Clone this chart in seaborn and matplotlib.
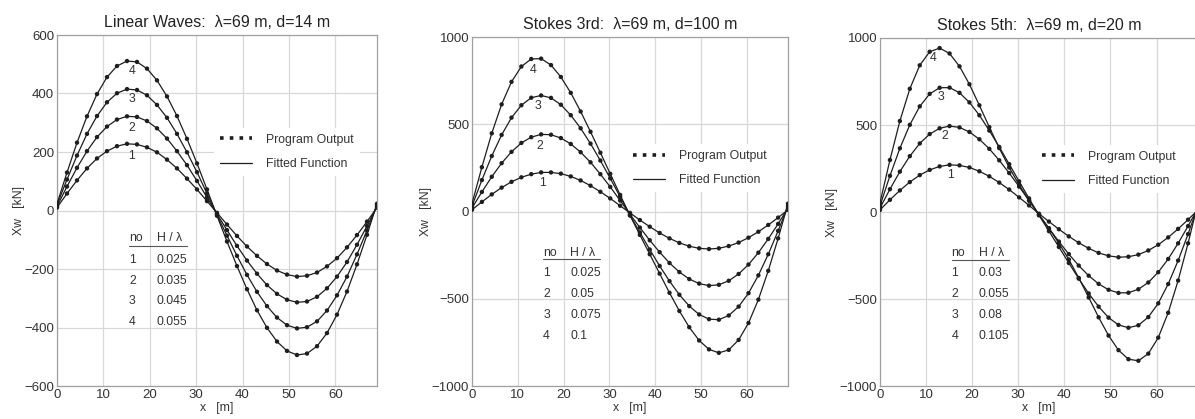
#!/usr/bin/env python3
"""
Wave force Xw along one wavelength: program output vs fitted function
"""

import numpy as np
import pandas as pd
import matplotlib
matplotlib.use('Agg')
import matplotlib.pyplot as plt
import seaborn as sns
from matplotlib.lines import Line2D
from matplotlib.ticker import MultipleLocator

# ---- data ----
wavelength = 69
x_m = np.linspace(0, wavelength, 33)   # sampling positions of the program output

titles = ['Linear Waves:  \u03bb=69 m, d=14 m',
          'Stokes 3rd:  \u03bb=69 m, d=100 m',
          'Stokes 5th:  \u03bb=69 m, d=20 m']
curve_no = ['1', '2', '3', '4']

linear_1 = [10, 58, 103, 144, 178, 203, 220, 228, 226, 216, 199, 174, 144, 109, 72, 32,
            -8, -48, -87, -123, -155, -183, -205, -219, -226, -223, -212, -191, -163, -126, -84, -38, 10]
linear_2 = [14, 82, 146, 203, 251, 287, 311, 322, 320, 306, 281, 246, 203, 155, 101, 45,
            -12, -67, -121, -171, -216, -255, -285, -305, -314, -311, -295, -266, -226, -176, -117, -53, 14]
linear_3 = [19, 106, 188, 262, 323, 370, 401, 415, 412, 394, 361, 317, 262, 199, 131, 58,
            -15, -86, -155, -220, -278, -327, -366, -392, -403, -399, -379, -342, -290, -226, -150, -68, 19]
linear_4 = [23, 130, 232, 322, 398, 456, 494, 511, 508, 485, 445, 390, 323, 245, 161, 72,
            -18, -106, -190, -269, -341, -401, -448, -480, -494, -489, -464, -419, -356, -277, -184, -83, 23]

stokes3_1 = [10, 55, 98, 137, 170, 196, 214, 224, 224, 217, 201, 178, 148, 113, 75, 33,
             -8, -49, -87, -123, -154, -180, -199, -211, -215, -211, -198, -178, -150, -116, -77, -35, 10]
stokes3_2 = [20, 112, 199, 277, 342, 393, 426, 442, 440, 421, 387, 340, 282, 214, 141, 63,
             -16, -92, -165, -233, -295, -347, -387, -413, -425, -420, -397, -358, -304, -236, -157, -71, 20]
stokes3_3 = [31, 180, 318, 439, 538, 609, 652, 665, 651, 612, 552, 477, 389, 292, 190, 84,
             -21, -120, -218, -312, -399, -477, -542, -590, -617, -620, -596, -545, -468, -366, -245, -111, 31]
stokes3_4 = [45, 254, 448, 614, 743, 831, 874, 876, 839, 771, 680, 573, 457, 337, 216, 95,
             -23, -134, -245, -356, -466, -570, -663, -739, -790, -810, -793, -736, -639, -505, -340, -154, 45]

stokes5_1 = [12, 70, 124, 172, 212, 242, 262, 271, 268, 256, 234, 205, 169, 129, 84, 38,
             -10, -55, -99, -140, -177, -209, -235, -252, -260, -257, -245, -221, -188, -146, -97, -44, 12]
stokes5_2 = [23, 131, 232, 321, 394, 448, 481, 494, 486, 460, 418, 363, 297, 224, 146, 65,
             -16, -94, -170, -242, -308, -366, -413, -447, -465, -464, -444, -405, -346, -270, -180, -81, 23]
stokes5_3 = [36, 208, 366, 501, 607, 679, 714, 715, 685, 630, 556, 468, 374, 275, 176, 78,
             -19, -110, -201, -293, -383, -468, -544, -607, -649, -665, -651, -604, -525, -414, -279, -127, 36]
stokes5_4 = [53, 299, 523, 708, 843, 921, 942, 911, 837, 734, 613, 488, 367, 256, 156, 67,
             -16, -94, -179, -273, -379, -491, -605, -710, -794, -846, -855, -814, -722, -579, -394, -180, 53]

h_over_l_linear = ['0.025', '0.035', '0.045', '0.055']
h_over_l_stokes3 = ['0.025', '0.05', '0.075', '0.1']
h_over_l_stokes5 = ['0.03', '0.055', '0.08', '0.105']

# curve number labels (x, y in data units)
label_pos_linear = [(16.1, 186), (16.1, 283), (16.1, 380), (16.1, 477)]
label_pos_stokes3 = [(15.4, 164), (14.8, 376), (14.3, 604), (13.4, 813)]
label_pos_stokes5 = [(15.3, 213), (14.1, 436), (13.2, 662), (11.6, 885)]

panels = [
    dict(series=[linear_1, linear_2, linear_3, linear_4], hl=h_over_l_linear,
         labels=label_pos_linear, ylim=(-600, 600), major=200, minor=50,
         rect=[57 / 1195, 33 / 419, 320 / 1195, 351 / 419],
         table_y=[0.421, 0.399, 0.359, 0.300, 0.242, 0.183],
         legend_y=0.667, ylab_x=-0.10),
    dict(series=[stokes3_1, stokes3_2, stokes3_3, stokes3_4], hl=h_over_l_stokes3,
         labels=label_pos_stokes3, ylim=(-1000, 1000), major=500, minor=100,
         rect=[472 / 1195, 33 / 419, 316 / 1195, 349 / 419],
         table_y=[0.382, 0.363, 0.324, 0.264, 0.203, 0.143],
         legend_y=0.624, ylab_x=-0.127),
    dict(series=[stokes5_1, stokes5_2, stokes5_3, stokes5_4], hl=h_over_l_stokes5,
         labels=label_pos_stokes5, ylim=(-1000, 1000), major=500, minor=100,
         rect=[880 / 1195, 33 / 419, 318 / 1195, 348 / 419],
         table_y=[0.382, 0.363, 0.324, 0.264, 0.203, 0.143],
         legend_y=0.624, ylab_x=-0.132),
]


def main():
    sns.set_style('white')
    plt.rcParams['font.family'] = ['Liberation Sans', 'DejaVu Sans']
    plt.rcParams['axes.unicode_minus'] = True

    fig = plt.figure(figsize=(11.95, 4.19), dpi=100)
    fs = 8.8
    ink = '#1e1e1e'
    grid_c = '#d8d8d8'

    for i, p in enumerate(panels):
        ax = fig.add_axes(p['rect'])

        # long table for seaborn
        df = pd.DataFrame({
            'x': np.tile(x_m, 4),
            'Xw': np.concatenate(p['series']),
            'no': np.repeat(curve_no, len(x_m)),
        })

        sns.lineplot(data=df, x='x', y='Xw', units='no', estimator=None,
                     color=ink, linewidth=0.9, ax=ax, legend=False, zorder=3)
        sns.scatterplot(data=df, x='x', y='Xw', color=ink, s=10, marker='o',
                        edgecolor='none', ax=ax, legend=False, zorder=4)

        ax.set_xlim(0, wavelength)
        ax.set_ylim(*p['ylim'])
        ax.xaxis.set_major_locator(MultipleLocator(10))
        ax.yaxis.set_major_locator(MultipleLocator(p['major']))
        ax.yaxis.set_minor_locator(MultipleLocator(p['minor']))
        ax.grid(True, which='major', color=grid_c, linewidth=0.9, zorder=0)
        ax.set_axisbelow(True)
        for sp in ax.spines.values():
            sp.set_color('#a0a0a0')
            sp.set_linewidth(0.9)
        ax.tick_params(axis='both', which='major', length=0, labelsize=9.5,
                       labelcolor='#333333', pad=2)
        ax.tick_params(axis='y', which='minor', length=2.5, direction='in',
                       color='#a0a0a0', width=0.6)

        ax.set_title(titles[i], fontsize=11.5, color='#222222', pad=6)
        ax.set_xlabel('x   [m]', fontsize=fs, color='#333333')
        ax.set_ylabel('Xw   [kN]', fontsize=fs, color='#333333')
        ax.xaxis.set_label_coords(0.5, -0.045)
        ax.yaxis.set_label_coords(p['ylab_x'], 0.5)

        # curve numbers
        for no, (lx, ly) in zip(curve_no, p['labels']):
            ax.text(lx, ly, no, fontsize=fs, color='#333333', ha='center',
                    va='center', zorder=5)

        # small table with H / lambda
        ty = p['table_y']
        ax.text(0.225, ty[0], 'no', transform=ax.transAxes, fontsize=fs,
                color='#333333', va='center', ha='left')
        ax.text(0.311, ty[0], 'H / \u03bb', transform=ax.transAxes, fontsize=fs,
                color='#333333', va='center', ha='left')
        ax.plot([0.225, 0.405], [ty[1], ty[1]], transform=ax.transAxes,
                color='#555555', linewidth=0.8, clip_on=False)
        for k, hl in enumerate(p['hl']):
            ax.text(0.225, ty[2 + k], curve_no[k], transform=ax.transAxes,
                    fontsize=fs, color='#333333', va='center', ha='left')
            ax.text(0.311, ty[2 + k], hl, transform=ax.transAxes,
                    fontsize=fs, color='#333333', va='center', ha='left')

        # legend
        handles = [
            Line2D([0], [0], color=ink, linestyle=(0, (1, 1.7)), linewidth=2.6,
                   dash_capstyle='butt'),
            Line2D([0], [0], color=ink, linewidth=0.9),
        ]
        leg = ax.legend(handles, ['Program Output', 'Fitted Function'],
                        loc='center left', bbox_to_anchor=(0.49, p['legend_y']),
                        fontsize=fs, frameon=True, handlelength=2.6,
                        handletextpad=1.2, labelspacing=1.0, borderpad=0.5,
                        borderaxespad=0)
        leg.get_frame().set_facecolor('white')
        leg.get_frame().set_edgecolor('none')
        leg.get_frame().set_alpha(1)
        for t in leg.get_texts():
            t.set_color('#333333')

    fig.savefig('out.png', dpi=100)
    plt.close(fig)


if __name__ == '__main__':
    main()
